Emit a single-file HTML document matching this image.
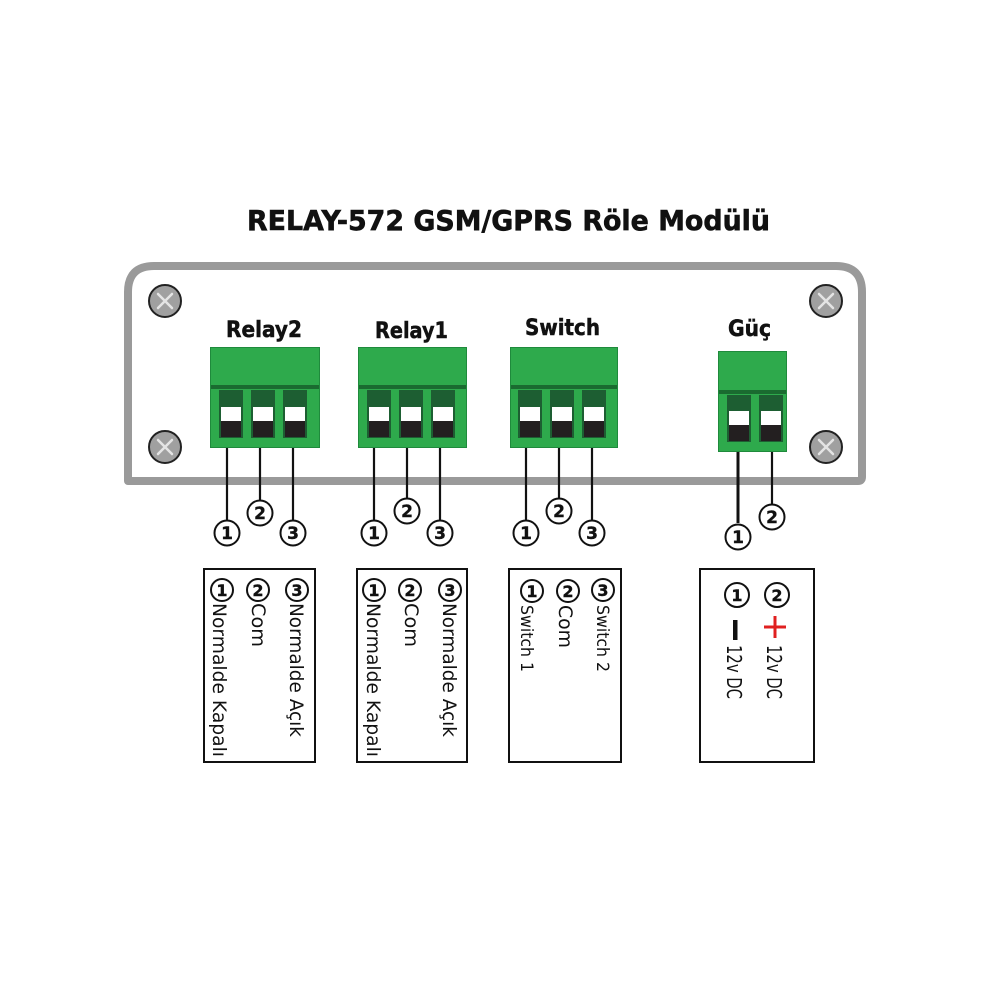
<!DOCTYPE html>
<html><head><meta charset="utf-8"><style>
html,body{margin:0;padding:0;background:#fff;}
svg{display:block;}
text{font-family:"DejaVu Sans","Liberation Sans",sans-serif;}
</style></head><body>
<svg width="1000" height="1000" viewBox="0 0 1000 1000" xmlns="http://www.w3.org/2000/svg">
<rect width="1000" height="1000" fill="#fff"/>
<!-- Title -->
<text x="247" y="230" font-size="28" font-weight="bold" fill="#111" stroke="#111" stroke-width="0.6" textLength="523" lengthAdjust="spacingAndGlyphs">RELAY-572 GSM/GPRS Röle Modülü</text>

<!-- Panel -->
<path d="M128 481 L128 292 Q128 266 154 266 L836 266 Q862 266 862 292 L862 477 Q862 481 858 481 Z" fill="#fff" stroke="#9a9a9a" stroke-width="8" stroke-linejoin="round"/>

<!-- Screws -->
<g stroke="#222" stroke-width="2" fill="#a0a0a0">
<circle cx="165" cy="301" r="16"/><circle cx="165" cy="447" r="16"/>
<circle cx="826" cy="301" r="16"/><circle cx="826" cy="447" r="16"/>
</g>
<g stroke="#e4e4e4" stroke-width="2.5" stroke-linecap="round">
<path d="M158 294 L172 308 M172 294 L158 308"/>
<path d="M158 440 L172 454 M172 440 L158 454"/>
<path d="M819 294 L833 308 M833 294 L819 308"/>
<path d="M819 440 L833 454 M833 440 L819 454"/>
</g>

<!-- Labels -->
<g font-weight="bold" fill="#111" stroke="#111" stroke-width="0.5" font-size="22">
<text x="226" y="337" textLength="76" lengthAdjust="spacingAndGlyphs">Relay2</text>
<text x="375" y="338" textLength="73" lengthAdjust="spacingAndGlyphs">Relay1</text>
<text x="525" y="335" textLength="75" lengthAdjust="spacingAndGlyphs">Switch</text>
<text x="728" y="336" textLength="43" lengthAdjust="spacingAndGlyphs">Güç</text>
</g>

<!-- Relay2 -->
<g>
<rect x="210.5" y="347.5" width="109" height="100" fill="#2eaa4c" stroke="#1f8a3c"/>
<rect x="211" y="385" width="108" height="4" fill="#1a6b30"/>
<rect x="219" y="390" width="24" height="48" fill="#1d5e32"/><rect x="221" y="407" width="20" height="14" fill="#fff"/><rect x="221" y="421" width="20" height="16" fill="#231f20"/>
<rect x="251" y="390" width="24" height="48" fill="#1d5e32"/><rect x="253" y="407" width="20" height="14" fill="#fff"/><rect x="253" y="421" width="20" height="16" fill="#231f20"/>
<rect x="283" y="390" width="24" height="48" fill="#1d5e32"/><rect x="285" y="407" width="20" height="14" fill="#fff"/><rect x="285" y="421" width="20" height="16" fill="#231f20"/>
</g>
<!-- Relay1 -->
<g>
<rect x="358.5" y="347.5" width="108" height="100" fill="#2eaa4c" stroke="#1f8a3c"/>
<rect x="359" y="385" width="107" height="4" fill="#1a6b30"/>
<rect x="367" y="390" width="24" height="48" fill="#1d5e32"/><rect x="369" y="407" width="20" height="14" fill="#fff"/><rect x="369" y="421" width="20" height="16" fill="#231f20"/>
<rect x="399" y="390" width="24" height="48" fill="#1d5e32"/><rect x="401" y="407" width="20" height="14" fill="#fff"/><rect x="401" y="421" width="20" height="16" fill="#231f20"/>
<rect x="431" y="390" width="24" height="48" fill="#1d5e32"/><rect x="433" y="407" width="20" height="14" fill="#fff"/><rect x="433" y="421" width="20" height="16" fill="#231f20"/>
</g>
<!-- Switch -->
<g>
<rect x="510.5" y="347.5" width="107" height="100" fill="#2eaa4c" stroke="#1f8a3c"/>
<rect x="511" y="385" width="106" height="4" fill="#1a6b30"/>
<rect x="518" y="390" width="24" height="48" fill="#1d5e32"/><rect x="520" y="407" width="20" height="14" fill="#fff"/><rect x="520" y="421" width="20" height="16" fill="#231f20"/>
<rect x="550" y="390" width="24" height="48" fill="#1d5e32"/><rect x="552" y="407" width="20" height="14" fill="#fff"/><rect x="552" y="421" width="20" height="16" fill="#231f20"/>
<rect x="582" y="390" width="24" height="48" fill="#1d5e32"/><rect x="584" y="407" width="20" height="14" fill="#fff"/><rect x="584" y="421" width="20" height="16" fill="#231f20"/>
</g>
<!-- Güç -->
<g>
<rect x="718.5" y="351.5" width="68" height="100" fill="#2eaa4c" stroke="#1f8a3c"/>
<rect x="719" y="390" width="67" height="4" fill="#1a6b30"/>
<rect x="727" y="395" width="24" height="47" fill="#1d5e32"/><rect x="729" y="411" width="20" height="14" fill="#fff"/><rect x="729" y="425" width="20" height="16" fill="#231f20"/>
<rect x="759" y="395" width="24" height="47" fill="#1d5e32"/><rect x="761" y="411" width="20" height="14" fill="#fff"/><rect x="761" y="425" width="20" height="16" fill="#231f20"/>
</g>

<!-- Wires -->
<g stroke="#111" stroke-width="2.2">
<path d="M227 448 V520 M260 448 V500 M293 448 V520"/>
<path d="M374 448 V520 M407 448 V498 M440 448 V520"/>
<path d="M526 448 V520 M559 448 V498 M592 448 V520"/>
<path d="M772 452 V504"/>
</g>
<path d="M738 452 V523" stroke="#111" stroke-width="3"/>

<!-- Numbered circles under wires -->
<g fill="#fff" stroke="#111" stroke-width="2">
<circle cx="227" cy="533" r="12.5"/><circle cx="260" cy="513" r="12.5"/><circle cx="293" cy="533" r="12.5"/>
<circle cx="374" cy="533" r="12.5"/><circle cx="407" cy="511" r="12.5"/><circle cx="440" cy="533" r="12.5"/>
<circle cx="526" cy="533" r="12.5"/><circle cx="559" cy="511" r="12.5"/><circle cx="592" cy="533" r="12.5"/>
<circle cx="738" cy="537" r="12.5"/><circle cx="772" cy="517" r="12.5"/>
</g>
<g font-size="17" font-weight="bold" fill="#111" stroke="#111" stroke-width="0.4" text-anchor="middle">
<text x="227" y="539">1</text><text x="260" y="519">2</text><text x="293" y="539">3</text>
<text x="374" y="539">1</text><text x="407" y="517">2</text><text x="440" y="539">3</text>
<text x="526" y="539">1</text><text x="559" y="517">2</text><text x="592" y="539">3</text>
<text x="738" y="543">1</text><text x="772" y="523">2</text>
</g>

<!-- Boxes -->
<g fill="none" stroke="#111" stroke-width="2">
<rect x="204" y="569" width="111" height="193"/>
<rect x="357" y="569" width="110" height="193"/>
<rect x="509" y="569" width="112" height="193"/>
<rect x="700" y="569" width="114" height="193"/>
</g>

<!-- Box circles -->
<g fill="#fff" stroke="#111" stroke-width="2">
<circle cx="222" cy="590" r="11"/><circle cx="258" cy="590" r="11"/><circle cx="297" cy="590" r="11"/>
<circle cx="374" cy="590" r="11"/><circle cx="410" cy="590" r="11"/><circle cx="450" cy="590" r="11"/>
<circle cx="532" cy="591" r="11"/><circle cx="568" cy="591" r="11"/><circle cx="603" cy="590" r="11"/>
<circle cx="737" cy="595" r="12"/><circle cx="777" cy="595" r="12"/>
</g>
<g font-size="16" font-weight="bold" fill="#111" stroke="#111" stroke-width="0.4" text-anchor="middle">
<text x="222" y="596">1</text><text x="258" y="596">2</text><text x="297" y="596">3</text>
<text x="374" y="596">1</text><text x="410" y="596">2</text><text x="450" y="596">3</text>
<text x="532" y="597">1</text><text x="568" y="597">2</text><text x="603" y="596">3</text>
<text x="737" y="601">1</text><text x="777" y="601">2</text>
</g>

<!-- Rotated texts -->
<g fill="#111" font-size="19">
<text transform="translate(213,603) rotate(90)" textLength="154" lengthAdjust="spacingAndGlyphs">Normalde Kapalı</text>
<text transform="translate(252,603) rotate(90)" textLength="44" lengthAdjust="spacingAndGlyphs">Com</text>
<text transform="translate(290,603) rotate(90)" textLength="134" lengthAdjust="spacingAndGlyphs">Normalde Açık</text>
<text transform="translate(367,603) rotate(90)" textLength="154" lengthAdjust="spacingAndGlyphs">Normalde Kapalı</text>
<text transform="translate(405,603) rotate(90)" textLength="44" lengthAdjust="spacingAndGlyphs">Com</text>
<text transform="translate(443,603) rotate(90)" textLength="134" lengthAdjust="spacingAndGlyphs">Normalde Açık</text>
<text transform="translate(559,605) rotate(90)" textLength="43" lengthAdjust="spacingAndGlyphs">Com</text>
</g>
<g fill="#111" font-size="17">
<text transform="translate(521,605) rotate(90)" textLength="67" lengthAdjust="spacingAndGlyphs">Switch 1</text>
<text transform="translate(597,605) rotate(90)" textLength="67" lengthAdjust="spacingAndGlyphs">Switch 2</text>
</g>
<g fill="#111" font-size="20">
<text transform="translate(727,645) rotate(90)" textLength="54" lengthAdjust="spacingAndGlyphs">12v DC</text>
<text transform="translate(767,645) rotate(90)" textLength="54" lengthAdjust="spacingAndGlyphs">12v DC</text>
</g>

<!-- minus and plus -->
<rect x="733" y="620" width="4.5" height="20" fill="#111"/>
<path d="M764 627 H786 M775 616 V638" stroke="#e02020" stroke-width="3"/>
</svg>
</body></html>
